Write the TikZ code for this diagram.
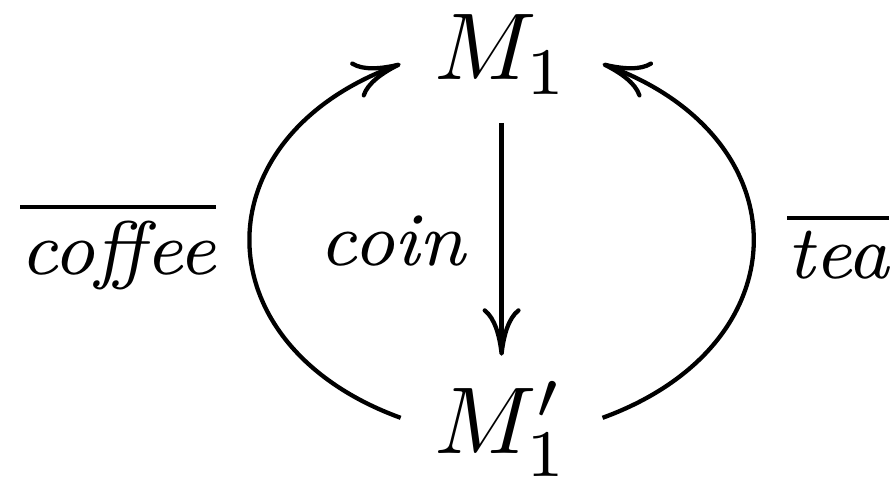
\documentclass[tikz,border=0pt]{standalone}
\usetikzlibrary{arrows.meta,positioning}
\tikzset{
  proc/.style={anchor=base, inner sep=3.333pt},
  act/.style={font=\footnotesize},
  trans/.style={
    -{Computer Modern Rightarrow[length=5pt,width=4pt]},
    line width=0.45pt
  }
}
\begin{document}
\begin{tikzpicture}[x=1pt,y=1pt]
  \useasboundingbox (-52.8,-41.9) rectangle (41.2,8.4);
  \node[proc] (M1) at (0,0) {$M_1$};
  \node[proc] (M1p) at (0,-39.3) {$M_1'$};
  \draw[trans, shorten <=-0.5pt, shorten >=-0.8pt] (M1) --
    node[act,left,yshift=-0.3pt] {\textit{coin}} (M1p);
  \draw[trans] ([yshift=1.2pt]M1p.west) to[out=160,in=200,looseness=1.55]
    node[act,left,yshift=-0.5pt] {$\overline{\textit{coffee}}$} ([yshift=-1pt]M1.west);
  \draw[trans] ([yshift=1.2pt]M1p.east) to[out=20,in=-20,looseness=1.55]
    node[act,right,yshift=-0.5pt] {$\overline{\textit{tea}}$} ([yshift=-1pt]M1.east);
\end{tikzpicture}
\end{document}
